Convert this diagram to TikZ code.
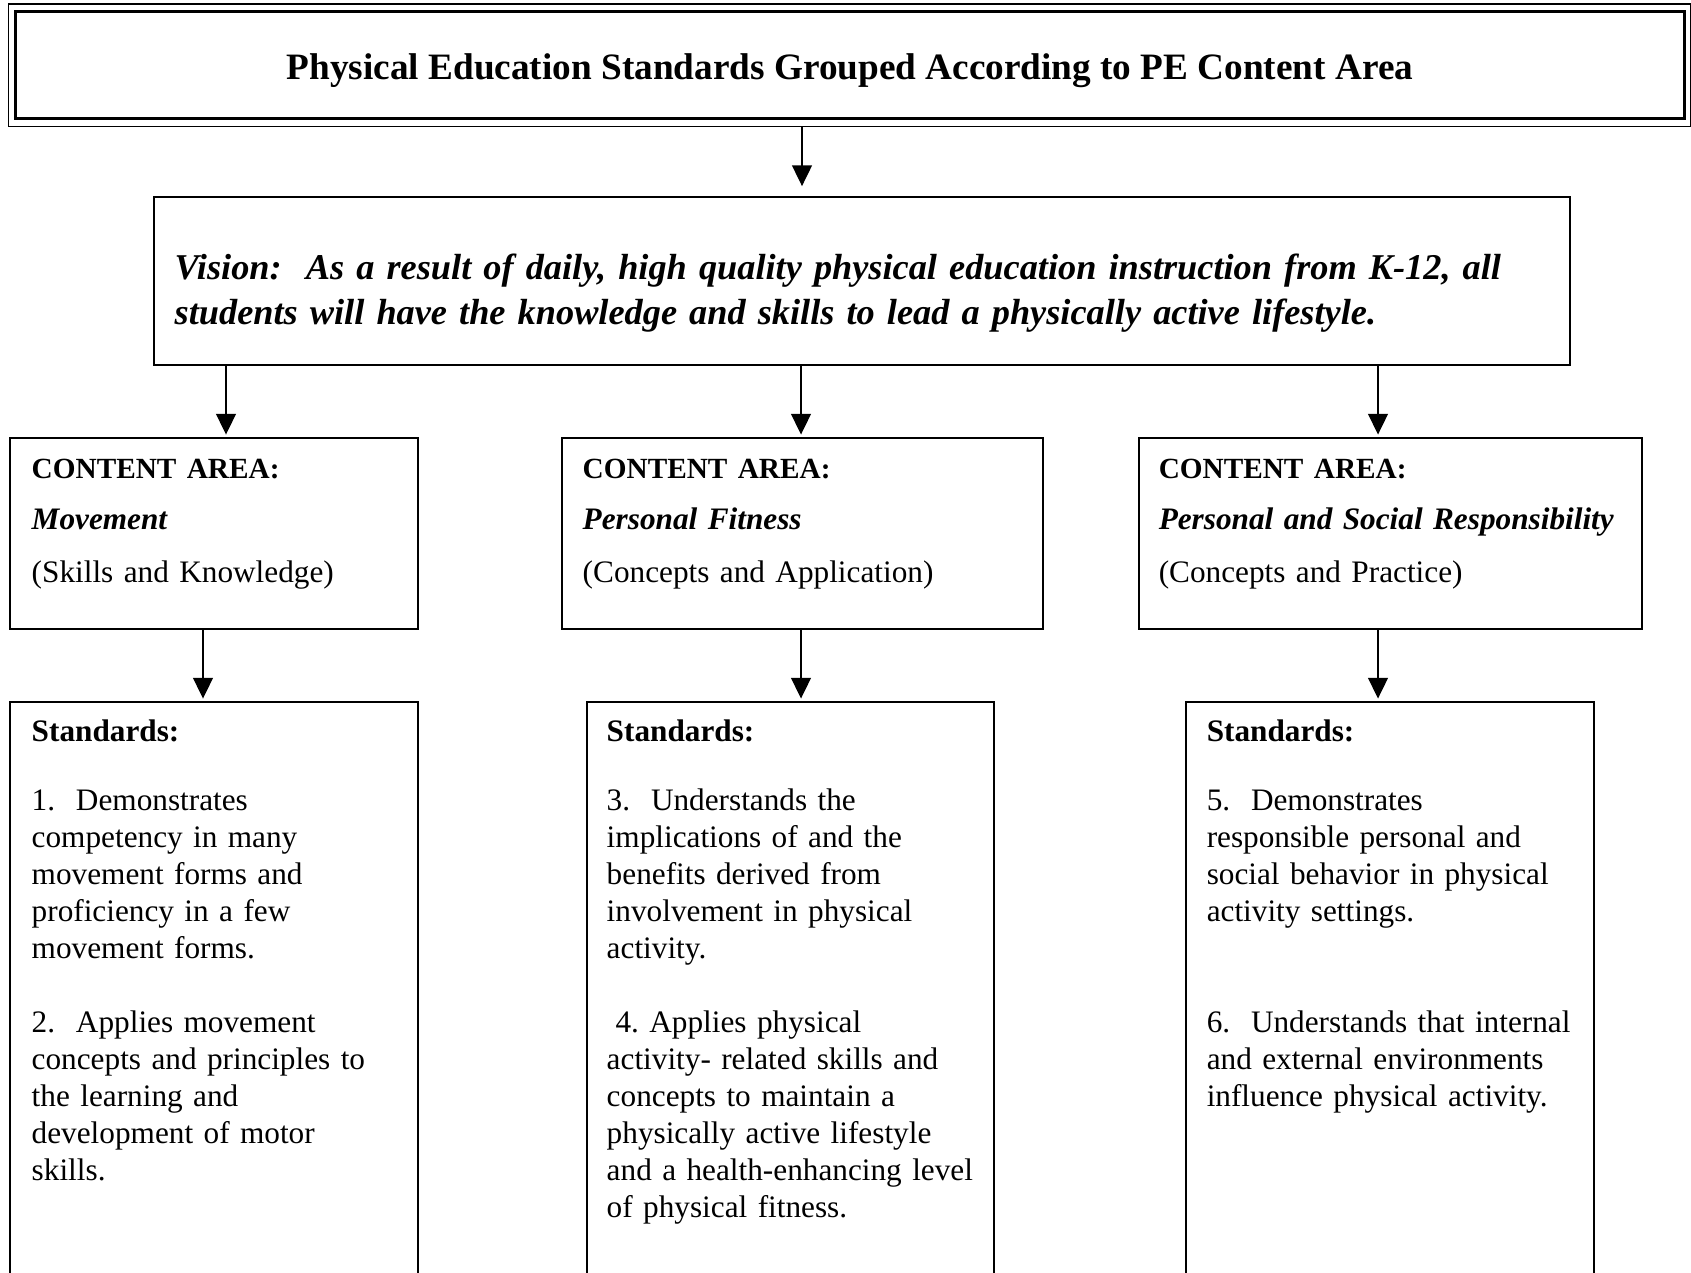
\documentclass[tikz,border=0pt]{standalone}
\usepackage{fontspec}
\setmainfont{Liberation Serif}
\usetikzlibrary{arrows.meta, positioning, fit, calc}
\frenchspacing

\newcommand{\areahead}{\textbf{\fontsize{11pt}{13.9pt}\selectfont CONTENT AREA:}}

\begin{document}
\begin{tikzpicture}[
        x=0.3759pt, y=-0.3759pt,
        box/.style={
            draw,
            line width=0.6pt,
            inner sep=0pt
        },
        titlebox/.style={
            box,
            line width=1pt
        },
        titletext/.style={
            anchor=base,
            inner sep=0pt,
            font=\fontsize{14pt}{16pt}\selectfont\bfseries
        },
        boxtext/.style={
            anchor=base west,
            inner sep=0pt,
            text width=200pt,
            align=left,
            font=\fontsize{11.75pt}{13.9pt}\selectfont
        },
        visiontext/.style={
            boxtext,
            text width=560pt,
            font=\fontsize{13.65pt}{16.9pt}\selectfont\bfseries\itshape
        },
        arrow/.style={
            -{Triangle[length=7.8pt, width=7.5pt]},
            line width=0.5pt,
            shorten >=1pt
        }
    ]

    \path[use as bounding box, fill=white] (0,0) rectangle (1691,1273);
    \clip (0,0) rectangle (1691,1273);

    % title with its thin outer frame
    \node[titlebox, fit={(15.5,11.5) (1684.5,118.5)}] (title) {};
    \draw[line width=0.5pt] ($(title.north west)+(-5.5,-6)$) rectangle ($(title.south east)+(4.5,6.5)$);
    \node[titletext] (titletxt) at ($(title.center)+(0,15)$)
        {Physical Education Standards Grouped According to PE Content Area};

    \node[box, fit={(154,197) (1570,365)}] (vision) {};
    \node[visiontext] (visiontxt) at ($(vision.north west)+(21,83)$)
        {Vision:\ \ As a result of daily, high quality physical education instruction from K-12, all\\
         students will have the knowledge and skills to lead a physically active lifestyle.};

    % content areas
    \node[box, fit={(10,438) (418,629)}] (movebox) {};
    \node[box, fit={(562,438) (1043,629)}] (fitbox) {};
    \node[box, fit={(1139,438) (1642,629)}] (respbox) {};

    \node[boxtext] (movetxt) at ($(movebox.north west)+(22,41)$)
        {\areahead\\[5.2pt]\textbf{\textit{Movement}}\\[6.2pt](Skills and Knowledge)};
    \node[boxtext] (fittxt) at ($(fitbox.north west)+(21,41)$)
        {\areahead\\[5.2pt]\textbf{\textit{Personal Fitness}}\\[6.2pt](Concepts and Application)};
    \node[boxtext] (resptxt) at ($(respbox.north west)+(20,41)$)
        {\areahead\\[5.2pt]\textbf{\textit{Personal and Social Responsibility}}\\[6.2pt](Concepts and Practice)};

    % standards (boxes run off the page)
    \node[box, fit={(10,702) (418,1320)}] (movestd) {};
    \node[box, fit={(587,702) (994,1320)}] (fitstd) {};
    \node[box, fit={(1186,702) (1594,1320)}] (respstd) {};

    \node[boxtext] (movestdtxt) at ($(movestd.north west)+(22,40)$)
        {\textbf{Standards:}\\[12.2pt]
         1.\ \ Demonstrates\\competency in many\\movement forms and\\proficiency in a few\\movement forms.\\[13.9pt]
         2.\ \ Applies movement\\concepts and principles to\\the learning and\\development of motor\\skills.};
    \node[boxtext] (fitstdtxt) at ($(fitstd.north west)+(20,40)$)
        {\textbf{Standards:}\\[12.2pt]
         3.\ \ Understands the\\implications of and the\\benefits derived from\\involvement in physical\\activity.\\[13.9pt]
         \hspace*{3.3pt}4. Applies physical\\activity- related skills and\\concepts to maintain a\\physically active lifestyle\\and a health-enhancing level\\of physical fitness.};
    \node[boxtext] (respstdtxt) at ($(respstd.north west)+(21,40)$)
        {\textbf{Standards:}\\[12.2pt]
         5.\ \ Demonstrates\\responsible personal and\\social behavior in physical\\activity settings.\\[27.8pt]
         6.\ \ Understands that internal\\and external environments\\influence physical activity.};

    % arrows
    \draw[arrow, shorten <=2.4pt, shorten >=3.8pt] ($(title.south)+(-48,0)$) -- ($(title.south |- vision.north)+(-48,0)$);

    \draw[arrow] ($(vision.south -| movebox.north)+(12,0)$) -- ($(movebox.north)+(12,0)$);
    \draw[arrow] ($(vision.south -| fitbox.north)+(-1.5,0)$) -- ($(fitbox.north)+(-1.5,0)$);
    \draw[arrow] ($(vision.south -| respbox.north)+(-12.5,0)$) -- ($(respbox.north)+(-12.5,0)$);

    \draw[arrow] ($(movebox.south)+(-11,0)$) -- ($(movebox.south |- movestd.north)+(-11,0)$);
    \draw[arrow] ($(fitbox.south)+(-1.5,0)$) -- ($(fitbox.south |- fitstd.north)+(-1.5,0)$);
    \draw[arrow] ($(respbox.south)+(-12.5,0)$) -- ($(respbox.south |- respstd.north)+(-12.5,0)$);

\end{tikzpicture}
\end{document}
